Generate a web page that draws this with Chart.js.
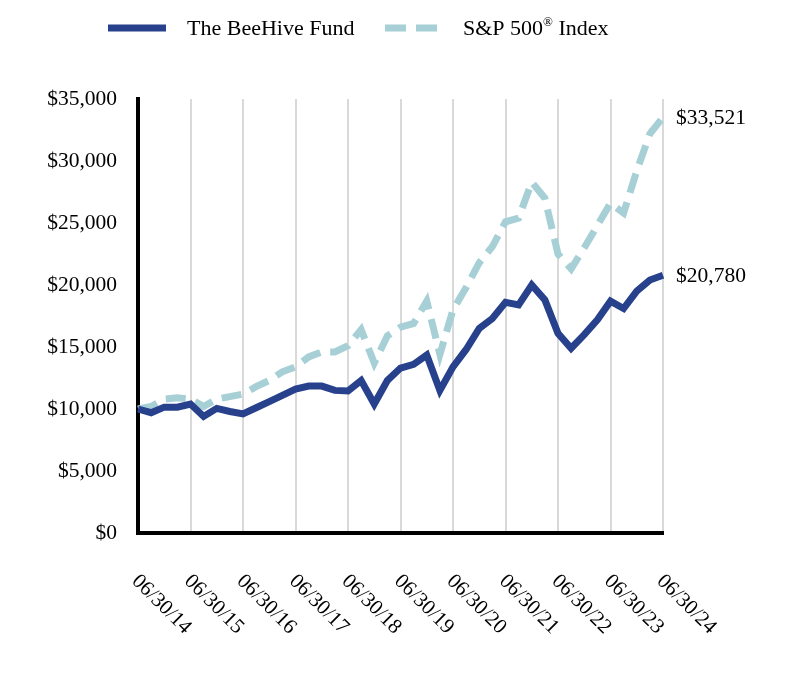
<!DOCTYPE html>
<html>
<head>
<meta charset="utf-8">
<script src="https://cdn.jsdelivr.net/npm/chart.js@4"></script>
<style>
  body { margin: 0; background: #fff; }
  #wrap { width: 792px; height: 684px; }
</style>
</head>
<body>
<div id="wrap"><canvas id="myChart" width="792" height="684"></canvas></div>
<script>
const quarters = [
    '06/30/14', '09/30/14', '12/31/14', '03/31/15',
    '06/30/15', '09/30/15', '12/31/15', '03/31/16',
    '06/30/16', '09/30/16', '12/31/16', '03/31/17',
    '06/30/17', '09/30/17', '12/31/17', '03/31/18',
    '06/30/18', '09/30/18', '12/31/18', '03/31/19',
    '06/30/19', '09/30/19', '12/31/19', '03/31/20',
    '06/30/20', '09/30/20', '12/31/20', '03/31/21',
    '06/30/21', '09/30/21', '12/31/21', '03/31/22',
    '06/30/22', '09/30/22', '12/31/22', '03/31/23',
    '06/30/23', '09/30/23', '12/31/23', '03/31/24',
    '06/30/24'
];
const fundValues = [
    10000, 9700, 10150, 10150, 10400, 9400, 10050, 9800,
    9600, 10100, 10600, 11100, 11600, 11850, 11850, 11500,
    11450, 12300, 10400, 12300, 13300, 13600, 14350, 11500,
    13400, 14800, 16500, 17300, 18600, 18400, 20000, 18800,
    16100, 14900, 16000, 17200, 18700, 18100, 19500, 20400,
    20780
];
const spValues = [
    10000, 10200, 10800, 10900, 10800, 10200, 10800, 11000,
    11200, 11800, 12300, 13000, 13400, 14200, 14600, 14600,
    15100, 16400, 13700, 15900, 16600, 16900, 18700, 14400,
    18000, 19800, 21800, 23100, 25100, 25400, 28300, 27000,
    22500, 21300, 23000, 24800, 26600, 25800, 29200, 32200,
    33521
];
const seriesNames = ['The BeeHive Fund', 'S&P 500® Index'];

const FONT = "'Liberation Serif', 'Times New Roman', serif";
const NAVY = '#28418c';
const LIGHT = '#a6cfd6';

function money(v) {
    return '$' + v.toLocaleString('en-US');
}

// legend, rotated year labels and end-of-line values
const extras = {
    id: 'extras',
    afterDraw(chart) {
        const ctx = chart.ctx;
        const xs = chart.scales.x;
        ctx.save();
        ctx.fillStyle = '#000';

        // legend
        ctx.lineWidth = 7;
        ctx.strokeStyle = NAVY;
        ctx.beginPath();
        ctx.moveTo(108, 28);
        ctx.lineTo(166, 28);
        ctx.stroke();
        ctx.strokeStyle = LIGHT;
        ctx.setLineDash([21, 10]);
        ctx.beginPath();
        ctx.moveTo(385, 28);
        ctx.lineTo(437, 28);
        ctx.stroke();
        ctx.setLineDash([]);

        ctx.font = '22px ' + FONT;
        ctx.textBaseline = 'middle';
        ctx.textAlign = 'left';
        ctx.fillText('The BeeHive Fund', 187, 29);
        let x = 463;
        ctx.fillText('S&P 500', x, 29);
        x += ctx.measureText('S&P 500').width;
        ctx.font = '13px ' + FONT;
        ctx.fillText('®', x, 23);
        x += ctx.measureText('®').width;
        ctx.font = '22px ' + FONT;
        ctx.fillText(' Index', x, 29);

        // x labels, one per year
        ctx.font = '21px ' + FONT;
        quarters.forEach((q, i) => {
            if (i % 4 !== 0) return;
            const px = xs.getPixelForValue(i);
            ctx.save();
            ctx.translate(px - 3, 578);
            ctx.rotate(Math.PI / 4);
            ctx.textAlign = 'left';
            ctx.textBaseline = 'middle';
            ctx.fillText(q, 0, 0);
            ctx.restore();
        });

        // end values
        ctx.font = '21.5px ' + FONT;
        chart.data.datasets.forEach((ds, di) => {
            const meta = chart.getDatasetMeta(di);
            const last = meta.data[meta.data.length - 1];
            ctx.fillText(money(ds.data[ds.data.length - 1]), last.x + 13, last.y + 1);
        });
        ctx.restore();
    }
};

const data = {
    labels: quarters,
    datasets: [{
        label: seriesNames[0],
        data: fundValues,
        borderColor: NAVY,
        backgroundColor: NAVY,
        borderWidth: 7,
        borderJoinStyle: 'miter',
        pointRadius: 0,
        tension: 0
    }, {
        label: seriesNames[1],
        data: spValues,
        borderColor: LIGHT,
        backgroundColor: LIGHT,
        borderWidth: 7,
        borderDash: [20, 10],
        borderJoinStyle: 'miter',
        pointRadius: 0,
        tension: 0
    }]
};

const config = {
    type: 'line',
    data: data,
    plugins: [extras],
    options: {
        responsive: false,
        animation: false,
        layout: {
            padding: { top: 99, right: 129, left: 0, bottom: 0 }
        },
        plugins: {
            legend: { display: false },
            tooltip: { enabled: false }
        },
        scales: {
            x: {
                offset: false,
                ticks: { display: false, autoSkip: false },
                grid: {
                    drawTicks: false,
                    lineWidth: 2,
                    color: (c) => (c.index % 4 === 0 ? '#d9d9d9' : 'rgba(0,0,0,0)')
                },
                border: { color: '#000', width: 4 },
                afterFit(scale) { scale.height = 151; }
            },
            y: {
                min: 0,
                max: 35000,
                ticks: {
                    stepSize: 5000,
                    padding: 21,
                    color: '#000',
                    font: { family: FONT, size: 21.5 },
                    callback: (v) => money(v)
                },
                grid: { display: false, drawTicks: false },
                border: { color: '#000', width: 4 },
                afterFit(scale) { scale.width = 138; }
            }
        }
    }
};

let myChart = new Chart(document.getElementById('myChart'), config);
</script>
</body>
</html>
